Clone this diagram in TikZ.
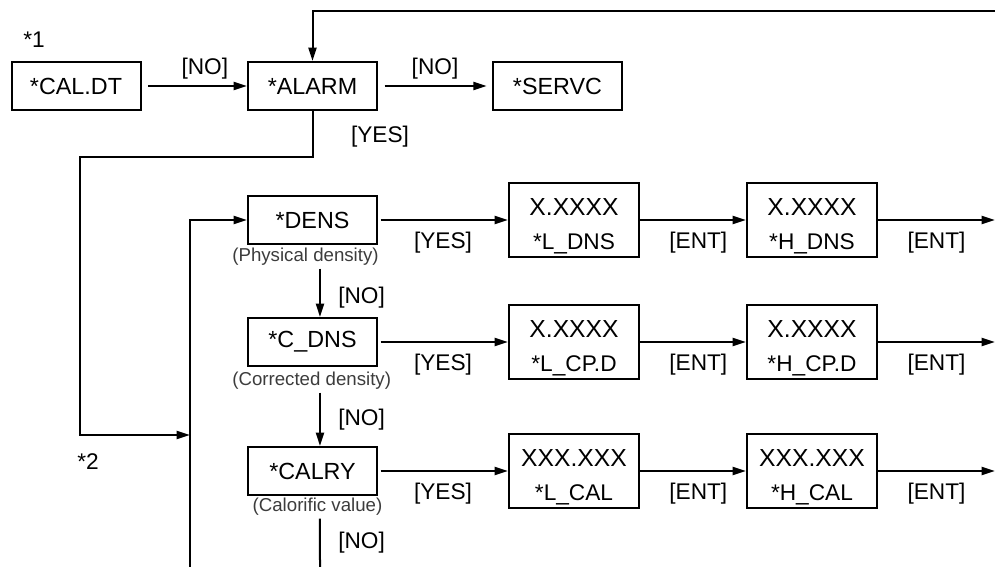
\documentclass[tikz,border=0pt]{standalone}
\usepackage{fontspec}
\setmainfont{Liberation Sans}
\usetikzlibrary{arrows.meta}
\definecolor{ink}{HTML}{000000}
\definecolor{notegrey}{HTML}{3C3C3C}
\tikzset{
  menubox/.style={draw=ink,line width=1.5pt,minimum width=96.75pt,minimum height=36pt,inner sep=2pt,
    font=\fontsize{17.5}{20}\selectfont},
  valbox/.style={draw=ink,line width=1.5pt,minimum width=97.5pt,minimum height=54.75pt,inner sep=2pt,
    align=center,font=\fontsize{18.5}{26}\selectfont},
  flow/.style={-{Triangle[length=10pt,width=6pt]},line width=1.5pt,draw=ink},
  wire/.style={line width=1.5pt,draw=ink},
  lbl/.style={font=\fontsize{17}{20}\selectfont,inner sep=3pt},
  note/.style={font=\fontsize{14}{16}\selectfont,text=notegrey,inner sep=2pt},
}
\newcommand{\low}[1]{\fontsize{17}{26}\selectfont #1}
\newcommand{\lift}{\rule{0pt}{22pt}}

\begin{document}
\begin{tikzpicture}[x=0.75pt,y=-0.75pt]
  \useasboundingbox (0,0) rectangle (995,567);
  % top row
  \node[menubox] (cal) at (76,86) {*CAL.DT};
  \node[menubox] (alarm) at (312.5,86) {*ALARM};
  \node[menubox] (servc) at (557.5,86) {*SERVC};
  \node[lbl] (n1) at (34,40) {*1};
  \draw[flow,shorten <=5pt] (cal) -- (alarm) node[lbl,pos=0.6,above=1pt]{[NO]};
  \draw[flow,shorten <=5pt,shorten >=4pt] (alarm) -- (servc) node[lbl,midway,above=1pt]{[NO]};
  \coordinate (loopin) at (995,11);
  \draw[flow] (loopin) -| (alarm.north);
  \node[lbl] (yes0) at (380,137) {[YES]};
  % menu column
  \node[menubox] (dens) at (312.5,220) {*DENS};
  \node[menubox] (cdns) at (312.5,342) {*C\_DNS};
  \node[menubox] (calry) at (312.5,471) {*CALRY};
  \node[note] (densnote) at (305.5,257) {(Physical density)};
  \node[note] (cdnsnote) at (311.7,381) {(Corrected density)};
  \node[note] (calnote) at (317.5,507) {(Calorific value)};
  \draw[flow] ([xshift=5.6pt]dens.south |- densnote.south) -- ([xshift=5.6pt]cdns.north) node[lbl,pos=0.6,right=10pt]{[NO]};
  \draw[flow] ([xshift=5.6pt]cdns.south |- cdnsnote.south) -- ([xshift=5.6pt]calry.north) node[lbl,midway,right=10pt]{[NO]};
  \coordinate (calout) at (320,567);
  \draw[wire] ([xshift=5.6pt]calry.south |- calnote.south) -- (calout) node[lbl,midway,right=10pt]{[NO]};
  % return path to the column
  \coordinate (jog) at (80,157);
  \coordinate (merge) at (190,435);
  \coordinate (barbot) at (190,567);
  \draw[flow] (alarm.south) |- (jog) |- (merge);
  \draw[flow] (barbot) |- (dens.west);
  \node[lbl] (n2) at (88,462) {*2};
  % value rows
  \node[valbox] (ldns) at (574,220) {\lift X.XXXX\\\low{*L\_DNS}};
  \node[valbox] (hdns) at (812,220) {\lift X.XXXX\\\low{*H\_DNS}};
  \node[valbox] (lcpd) at (574,342) {\lift X.XXXX\\\low{*L\_CP.D}};
  \node[valbox] (hcpd) at (812,342) {\lift X.XXXX\\\low{*H\_CP.D}};
  \node[valbox] (lcal) at (574,471) {\lift XXX.XXX\\\low{*L\_CAL}};
  \node[valbox] (hcal) at (812,471) {\lift XXX.XXX\\\low{*H\_CAL}};
  \coordinate (out1) at (995,220);
  \coordinate (out2) at (995,342);
  \coordinate (out3) at (995,471);
  \draw[flow,shorten <=2pt] (dens) -- (ldns) node[lbl,midway,below=5pt]{[YES]};
  \draw[flow,shorten <=2pt] (cdns) -- (lcpd) node[lbl,midway,below=5pt]{[YES]};
  \draw[flow,shorten <=2pt] (calry) -- (lcal) node[lbl,midway,below=5pt]{[YES]};
  \draw[flow] (ldns) -- (hdns) node[lbl,pos=0.55,below=5pt]{[ENT]};
  \draw[flow] (lcpd) -- (hcpd) node[lbl,pos=0.55,below=5pt]{[ENT]};
  \draw[flow] (lcal) -- (hcal) node[lbl,pos=0.55,below=5pt]{[ENT]};
  \draw[flow] (hdns) -- (out1) node[lbl,midway,below=5pt]{[ENT]};
  \draw[flow] (hcpd) -- (out2) node[lbl,midway,below=5pt]{[ENT]};
  \draw[flow] (hcal) -- (out3) node[lbl,midway,below=5pt]{[ENT]};
\end{tikzpicture}
\end{document}
